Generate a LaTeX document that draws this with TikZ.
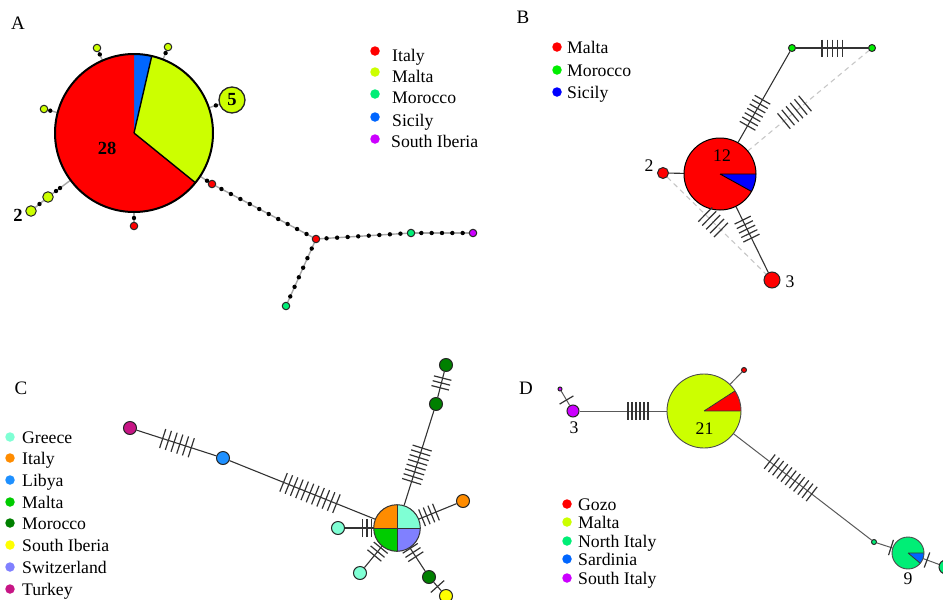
\documentclass[tikz,border=0pt]{standalone}
\usepackage{fontspec}
\setmainfont{Liberation Serif}
\usetikzlibrary{calc}
\pgfdeclarelayer{bg}
\pgfsetlayers{bg,main}
\definecolor{cRed}{HTML}{FF0000}
\definecolor{cLime}{HTML}{CCFF00}
\definecolor{cSpring}{HTML}{00EE76}
\definecolor{cSky}{HTML}{0066FF}
\definecolor{cPurp}{HTML}{CC00FF}
\definecolor{cBGreen}{HTML}{00EE00}
\definecolor{cBlue}{HTML}{0000FF}
\definecolor{cAqua}{HTML}{7FFFD4}
\definecolor{cOrange}{HTML}{FF8C00}
\definecolor{cDodger}{HTML}{1E90FF}
\definecolor{cMalta}{HTML}{00CC00}
\definecolor{cDGreen}{HTML}{008000}
\definecolor{cYellow}{HTML}{FFFF00}
\definecolor{cSwiss}{HTML}{8080FF}
\definecolor{cTurkey}{HTML}{C71585}
\newcommand\pieslice[5]{\fill[#5] (#1) -- ++(#3:#2) arc[start angle=#3, end angle=#4, radius=#2] -- cycle;}
\newcommand\tks[6]{%
  \coordinate (tkc) at ($(#1.center)!#3!(#2.center)$);
  \foreach \k in {1,...,#4}{%
    \pgfmathsetmacro\tkoff{(\k-(#4+1)/2)*#5}%
    \coordinate (tkp) at ($(tkc)!{\tkoff pt}!(#2.center)$);
    \draw[tick] ($(tkp)!#6pt!90:(#2.center)$) -- ($(tkp)!#6pt!-90:(#2.center)$);
  }}
\begin{document}
\begin{tikzpicture}[x=1pt,y=-1pt,
  hap/.style 2 args={circle, minimum size=#1, inner sep=0pt, fill=#2, draw=black!85, line width=1pt},
  pienode/.style={circle, minimum size=#1, inner sep=0pt},
  lbl/.style={font=\fontsize{17.7}{20}\selectfont, inner sep=0pt},
  numb/.style={font=\fontsize{18.5}{20}\selectfont\bfseries, inner sep=0pt},
  panel/.style={font=\fontsize{19}{22}\selectfont, inner sep=0pt},
  leg/.style={lbl, anchor=base west},
  ldot/.style={circle, fill=#1, inner sep=0pt, minimum size=9.5pt},
  link/.style={draw=black!80, line width=1.1pt},
  dlink/.style={draw=black!65, line width=1pt},
  chainline/.style={draw=black!35, line width=1.4pt},
  dashlink/.style={draw=black!22, dash pattern=on 5pt off 4pt, line width=1.1pt},
  tick/.style={draw=black!80, line width=1.2pt}]
\useasboundingbox (0,0) rectangle (943,600);

%================ Panel A
\node[panel] (tA) at (18,23) {A};
\node[pienode=158pt] (pA) at (134,133) {};
\pieslice{pA.center}{79}{-90}{-77}{cSky}
\pieslice{pA.center}{79}{-77}{39}{cLime}
\pieslice{pA.center}{79}{39}{270}{cRed}
\draw[line width=1.4pt] (pA.center) -- ++(39:79) (pA.center) -- ++(-77:79);
\draw[line width=2pt] (pA.center) circle[radius=79];
\node[numb] (l28) at (107,148) {28};

\node[hap={7.5pt}{cLime}] (yA1) at (97,48) {};
\node[hap={7.5pt}{cLime}] (yA2) at (168,47) {};
\node[hap={7.5pt}{cLime}] (yA3) at (44,109) {};
\node[hap={26pt}{cLime}, numb, line width=1.3pt] (n5) at (232,100) {5};
\node[hap={10.5pt}{cLime}] (yA4) at (48,197) {};
\node[hap={10.5pt}{cLime}] (yA5) at (31,211) {};
\node[numb] (l2A) at (18,215) {2};
\node[hap={7.5pt}{cRed}] (rA0) at (134,226) {};
\node[hap={7.5pt}{cRed}] (rA1) at (212,184) {};
\node[hap={7.5pt}{cRed}] (rA2) at (316,239) {};
\node[hap={7.5pt}{cSpring}] (gA1) at (411,233) {};
\node[hap={7.5pt}{cPurp}] (puA) at (473,233) {};
\node[hap={7.5pt}{cSpring}] (gA2) at (286,306) {};

\begin{pgfonlayer}{bg}
\draw[chainline] (pA) -- (yA1);
\draw[chainline] (pA) -- (yA2);
\draw[chainline] (pA) -- (yA3);
\draw[chainline] (pA) -- (n5);
\draw[chainline] (pA) -- (yA4);
\draw[chainline] (yA4) -- (yA5);
\draw[chainline] (pA) -- (rA0);
\draw[chainline] (pA) -- (rA1);
\draw[chainline] (rA1) -- (rA2);
\draw[chainline] (rA2) -- (gA1);
\draw[chainline] (gA1) -- (puA);
\draw[chainline] (rA2) -- (gA2);
\end{pgfonlayer}
\fill ($(yA1.center)!7pt!(pA.center)$) circle[radius=2.2];
\fill ($(yA2.center)!6.5pt!(pA.center)$) circle[radius=2.2];
\fill ($(yA3.center)!6.5pt!(pA.center)$) circle[radius=2.2];
\fill ($(n5.center)!17pt!(pA.center)$) circle[radius=2.2];
\fill ($(yA4.center)!10pt!(pA.center)$) circle[radius=2.2];
\fill ($(yA4.center)!15pt!(pA.center)$) circle[radius=2.2];
\fill ($(yA4)!0.5!(yA5)$) circle[radius=2.2];
\fill ($(rA0.center)!8pt!(pA.center)$) circle[radius=2.2];
\fill ($(rA1.center)!6pt!(pA.center)$) circle[radius=2.2];
\foreach \i in {1,...,10} \fill ($(rA1.center)!{\i/11}!(rA2.center)$) circle[radius=2.2];
\foreach \i in {1,...,8} \fill ($(rA2.center)!{\i/9}!(gA1.center)$) circle[radius=2.2];
\foreach \i in {1,...,5} \fill ($(gA1.center)!{\i/6}!(puA.center)$) circle[radius=2.2];
\foreach \i in {1,...,6} \fill ($(rA2.center)!{\i/7}!(gA2.center)$) circle[radius=2.2];

\node[ldot=cRed] (dA1) at (375,51) {};    \node[leg] (tA1) at (392,61) {Italy};
\node[ldot=cLime] (dA2) at (375,72) {};   \node[leg] (tA2) at (392,82) {Malta};
\node[ldot=cSpring] (dA3) at (375,94) {}; \node[leg] (tA3) at (392,103.5) {Morocco};
\node[ldot=cSky] (dA4) at (375,117) {};   \node[leg] (tA4) at (392,126) {Sicily};
\node[ldot=cPurp] (dA5) at (375,139) {};  \node[leg] (tA5) at (391,147) {South Iberia};

%================ Panel B
\node[panel] (tB) at (523,17) {B};
\node[pienode=72pt] (pB) at (720,174) {};
\node[hap={11pt}{cRed}] (n2B) at (663,173) {};
\node[hap={16pt}{cRed}] (n3B) at (772,280) {};
\node[hap={7pt}{cBGreen}] (mB1) at (792,48) {};
\node[hap={7pt}{cBGreen}] (mB2) at (872,48) {};
\begin{pgfonlayer}{bg}
\draw[link] (pB) -- (n2B);
\draw[link] (pB) -- (n3B);
\draw[link] (pB) -- (mB1);
\draw[link] (mB1) -- (mB2);
\draw[dashlink] (pB.center) -- (mB2);
\draw[dashlink] (n2B) -- (n3B);
\end{pgfonlayer}
\pieslice{pB.center}{36}{0}{29}{cBlue}
\pieslice{pB.center}{36}{29}{360}{cRed}
\draw[line width=0.9pt] (pB.center) -- ++(0:36) (pB.center) -- ++(29:36);
\draw[line width=1pt] (pB.center) circle[radius=36];
\node[lbl] (l12) at (722,156) {12};
\node[lbl] (l2B) at (649,166) {2};
\node[lbl] (l3B) at (790,282) {3};
\tks{pB}{mB1}{0.486}{7}{5}{9}
\tks{mB1}{mB2}{0.506}{5}{5.2}{8.5}
\tks{pB}{mB2}{0.49}{6}{5.5}{10}
\tks{n2B}{n3B}{0.46}{5}{5.5}{10}
\tks{pB}{n3B}{0.52}{5}{5}{9}
\node[ldot=cRed] (dB1) at (557,47) {};    \node[leg] (tB1) at (567,53) {Malta};
\node[ldot=cBGreen] (dB2) at (557,70) {}; \node[leg] (tB2) at (567,76) {Morocco};
\node[ldot=cBlue] (dB3) at (557,92) {};   \node[leg] (tB3) at (567,98) {Sicily};

%================ Panel C
\node[panel] (tC) at (21,388) {C};
\node[pienode=46.6pt] (pC) at (397,528) {};
\node[hap={13pt}{cTurkey}] (tuC) at (130,428) {};
\node[hap={13pt}{cDodger}] (liC) at (223,458) {};
\node[hap={13pt}{cDGreen}] (moC1) at (446,365) {};
\node[hap={13pt}{cDGreen}] (moC2) at (436,404) {};
\node[hap={13pt}{cOrange}] (itC) at (463,501) {};
\node[hap={13pt}{cAqua}] (grC1) at (338,528) {};
\node[hap={13pt}{cAqua}] (grC2) at (360,573) {};
\node[hap={13pt}{cDGreen}] (moC3) at (429,577) {};
\node[hap={13pt}{cYellow}] (siC) at (446,596) {};
\begin{pgfonlayer}{bg}
\draw[link] (tuC) -- (liC);
\draw[link] (liC) -- (pC);
\draw[link] (moC1) -- (moC2);
\draw[link] (moC2) -- (pC);
\draw[link] (itC) -- (pC);
\draw[link] (grC1) -- (pC);
\draw[link] (grC2) -- (pC);
\draw[link] (moC3) -- (pC);
\draw[link] (moC3) -- (siC);
\end{pgfonlayer}
\pieslice{pC.center}{23.3}{-180}{-90}{cOrange}
\pieslice{pC.center}{23.3}{-90}{0}{cAqua}
\pieslice{pC.center}{23.3}{90}{180}{cMalta}
\pieslice{pC.center}{23.3}{0}{90}{cSwiss}
\draw[line width=0.9pt, black!80] (pC.center) -- ++(0:23.3) (pC.center) -- ++(90:23.3)
  (pC.center) -- ++(180:23.3) (pC.center) -- ++(270:23.3);
\draw[line width=1pt, black!80] (pC.center) circle[radius=23.3];
\tks{tuC}{liC}{0.505}{6}{6}{10}
\tks{liC}{pC}{0.5}{11}{5.7}{10}
\tks{moC1}{moC2}{0.46}{3}{5}{9}
\tks{moC2}{pC}{0.49}{8}{5}{10}
\tks{pC}{itC}{0.485}{4}{5}{9}
\tks{pC}{grC1}{0.51}{3}{4.5}{9}
\tks{pC}{grC2}{0.525}{3}{5}{9}
\tks{pC}{moC3}{0.5}{3}{5}{9}
\tks{moC3}{siC}{0.5}{1}{5}{9}
\node[ldot=cAqua] (dC1) at (10,437) {};    \node[leg] (tC1) at (22,443) {Greece};
\node[ldot=cOrange] (dC2) at (10,458) {};  \node[leg] (tC2) at (22,464.5) {Italy};
\node[ldot=cDodger] (dC3) at (10,480) {};  \node[leg] (tC3) at (22,486) {Libya};
\node[ldot=cMalta] (dC4) at (10,502) {};   \node[leg] (tC4) at (22,508) {Malta};
\node[ldot=cDGreen] (dC5) at (10,523) {};  \node[leg] (tC5) at (22,529.5) {Morocco};
\node[ldot=cYellow] (dC6) at (10,545) {};  \node[leg] (tC6) at (22,551) {South Iberia};
\node[ldot=cSwiss] (dC7) at (10,567) {};   \node[leg] (tC7) at (22,573) {Switzerland};
\node[ldot=cTurkey] (dC8) at (10,589) {};  \node[leg] (tC8) at (22,595) {Turkey};

%================ Panel D
\node[panel] (tD) at (526,388) {D};
\node[pienode=74pt] (pD) at (704,411) {};
\node[hap={5pt}{cRed}] (rD) at (744,370) {};
\node[hap={12pt}{cPurp}] (puD) at (573,411) {};
\node[hap={4pt}{cPurp}] (puD2) at (560,389) {};
\node[hap={5pt}{cSpring}] (gD) at (874,542) {};
\node[pienode=32pt] (pD9) at (908,553) {};
\node[hap={14pt}{cSpring}] (gDR) at (946,567) {};
\begin{pgfonlayer}{bg}
\draw[dlink] (pD) -- (rD);
\draw[dlink] (puD) -- (pD);
\draw[dlink] (puD) -- (puD2);
\draw[dlink] (pD) -- (gD);
\draw[dlink] (gD) -- (pD9);
\draw[dlink] (pD9) -- (gDR);
\end{pgfonlayer}
\pieslice{pD.center}{37}{-33}{0}{cRed}
\pieslice{pD.center}{37}{0}{327}{cLime}
\draw[line width=0.8pt, black!80] (pD.center) -- ++(0:37) (pD.center) -- ++(-33:37);
\draw[line width=0.9pt, black!70] (pD.center) circle[radius=37];
\pieslice{pD9.center}{16}{0}{40}{cSky}
\pieslice{pD9.center}{16}{40}{360}{cSpring}
\draw[line width=0.8pt, black!80] (pD9.center) -- ++(0:16) (pD9.center) -- ++(40:16);
\draw[line width=0.9pt, black!70] (pD9.center) circle[radius=16];
\node[lbl] (l21) at (704.5,429) {21};
\node[lbl] (l3D) at (574,428) {3};
\node[lbl] (l9) at (908,579) {9};
\tks{puD}{pD}{0.496}{6}{4}{9}
\tks{puD}{puD2}{0.5}{1}{4}{8}
\tks{pD}{gD}{0.51}{11}{5.3}{9}
\tks{gD}{pD9}{0.5}{1}{4}{8}
\tks{pD9}{gDR}{0.5}{1}{4}{8}
\node[ldot=cRed] (dD1) at (567,504) {};    \node[leg] (tD1) at (578,510.5) {Gozo};
\node[ldot=cLime] (dD2) at (567,522) {};   \node[leg] (tD2) at (578,528.5) {Malta};
\node[ldot=cSpring] (dD3) at (567,541) {}; \node[leg] (tD3) at (578,547) {North Italy};
\node[ldot=cSky] (dD4) at (567,559) {};    \node[leg] (tD4) at (578,565) {Sardinia};
\node[ldot=cPurp] (dD5) at (567,578) {};   \node[leg] (tD5) at (578,584) {South Italy};
\end{tikzpicture}
\end{document}
